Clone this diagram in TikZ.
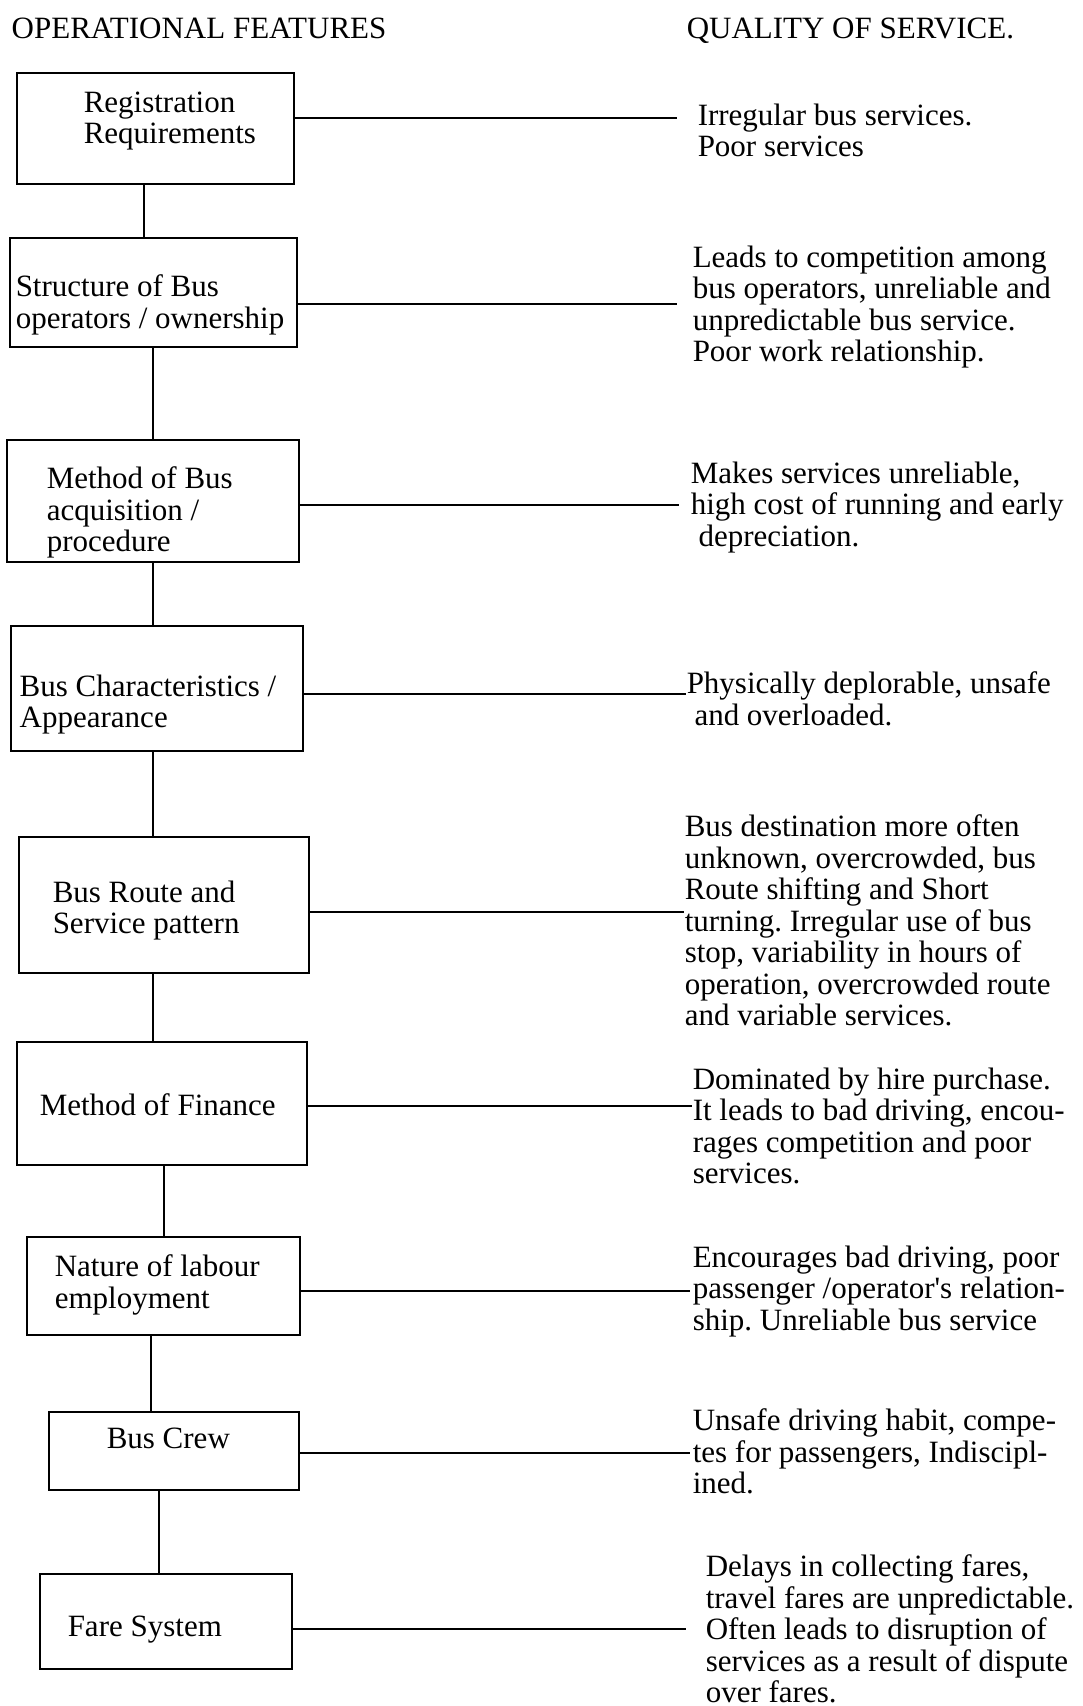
\documentclass[tikz,border=0pt]{standalone}
\usepackage{fontspec}
\setmainfont{Liberation Serif}
\usetikzlibrary{fit}
\tikzset{every picture/.style={line width=0.75pt}}
\frenchspacing

\begin{document}
\begin{tikzpicture}[x=0.5pt,y=0.5pt,yscale=-1,
	opbox/.style={draw, line width=1.3pt, inner sep=0pt},
	optext/.style={anchor=north west, yshift=11.03pt, inner sep=0pt, align=left,
		font={\fontsize{15.5}{15.75}\selectfont\frenchspacing}, execute at begin node=\strut},
	link/.style={line width=1pt}]
	\useasboundingbox (0,0) rectangle (1082,1706);

	%column headings
	\node [optext] (hfeat) at (11,38) {OPERATIONAL FEATURES};
	\node [optext] (hqual) at (686,38) {QUALITY OF SERVICE.};

	%Boxes: operational features
	\node [opbox, fit={(17,73) (294,184)}] (reg) {};
	\node [opbox, fit={(10,238) (297,347)}] (str) {};
	\node [opbox, fit={(7,440) (299,562)}] (acq) {};
	\node [opbox, fit={(11,626) (303,751)}] (app) {};
	\node [opbox, fit={(19,837) (309,973)}] (route) {};
	\node [opbox, fit={(17,1042) (307,1165)}] (fin) {};
	\node [opbox, fit={(27,1237) (300,1335)}] (lab) {};
	\node [opbox, fit={(49,1412) (299,1490)}] (crew) {};
	\node [opbox, fit={(40,1574) (292,1669)}] (fare) {};

	%texts in the boxes (at first baseline)
	\node [optext] (reg-t) at (83,113) {Registration\\Requirements};
	\node [optext] (str-t) at (15,296) {Structure of Bus\\operators / ownership};
	\node [optext] (acq-t) at (46,488) {Method of Bus\\acquisition /\\procedure};
	\node [optext] (app-t) at (19,696) {Bus Characteristics /\\Appearance};
	\node [optext] (route-t) at (52,902) {Bus Route and\\Service pattern};
	\node [optext] (fin-t) at (39,1115) {Method of Finance};
	\node [optext] (lab-t) at (54,1276) {Nature of labour\\employment};
	\node [optext] (crew-t) at (106,1448) {Bus Crew};
	\node [optext] (fare-t) at (67,1636) {Fare System};

	%chain down the left column
	\draw [link] (reg.south -| 144,0) -- (str.north -| 144,0);
	\draw [link] (str.south -| 153,0) -- (acq.north -| 153,0);
	\draw [link] (acq.south -| 153,0) -- (app.north -| 153,0);
	\draw [link] (app.south -| 153,0) -- (route.north -| 153,0);
	\draw [link] (route.south -| 153,0) -- (fin.north -| 153,0);
	\draw [link] (fin.south -| 164,0) -- (lab.north -| 164,0);
	\draw [link] (lab.south -| 151,0) -- (crew.north -| 151,0);
	\draw [link] (crew.south -| 159,0) -- (fare.north -| 159,0);

	%quality of service texts
	\node [optext] (reg-q) at (697,125) {Irregular bus services.\\Poor services};
	\node [optext] (str-q) at (692,267) {Leads to competition among\\bus operators, unreliable and\\unpredictable bus service.\\Poor work relationship.};
	\node [optext] (acq-q) at (690,483) {Makes services unreliable,\\high cost of running and early\\\ depreciation.};
	\node [optext] (app-q) at (686,693) {Physically deplorable, unsafe\\\ and overloaded.};
	\node [optext] (route-q) at (684,836) {Bus destination more often\\unknown, overcrowded, bus\\Route shifting and Short\\turning. Irregular use of bus\\stop, variability in hours of\\operation, overcrowded route\\and variable services.};
	\node [optext] (fin-q) at (692,1089) {Dominated by hire purchase.\\It leads to bad driving, encou-\\rages competition and poor\\services.};
	\node [optext] (lab-q) at (692,1267) {Encourages bad driving, poor\\passenger /operator\textquotesingle s relation-\\ship. Unreliable bus service};
	\node [optext] (crew-q) at (692,1430) {Unsafe driving habit, compe-\\tes for passengers, Indiscipl-\\ined.};
	\node [optext] (fare-q) at (705,1576) {Delays in collecting fares,\\travel fares are unpredictable.\\Often leads to disruption of\\services as a result of dispute\\over fares.};

	%line ends next to each text
	\coordinate (reg-e) at (677,118);
	\coordinate (str-e) at (677,304);
	\coordinate (acq-e) at (679,505);
	\coordinate (app-e) at (686,694);
	\coordinate (route-e) at (684,912);
	\coordinate (fin-e) at (692,1106);
	\coordinate (lab-e) at (690,1291);
	\coordinate (crew-e) at (690,1453);
	\coordinate (fare-e) at (686,1629);

	\draw [link] (reg.east |- reg-e) -- (reg-e);
	\draw [link] (str.east |- str-e) -- (str-e);
	\draw [link] (acq.east |- acq-e) -- (acq-e);
	\draw [link] (app.east |- app-e) -- (app-e);
	\draw [link] (route.east |- route-e) -- (route-e);
	\draw [link] (fin.east |- fin-e) -- (fin-e);
	\draw [link] (lab.east |- lab-e) -- (lab-e);
	\draw [link] (crew.east |- crew-e) -- (crew-e);
	\draw [link] (fare.east |- fare-e) -- (fare-e);
\end{tikzpicture}
\end{document}
